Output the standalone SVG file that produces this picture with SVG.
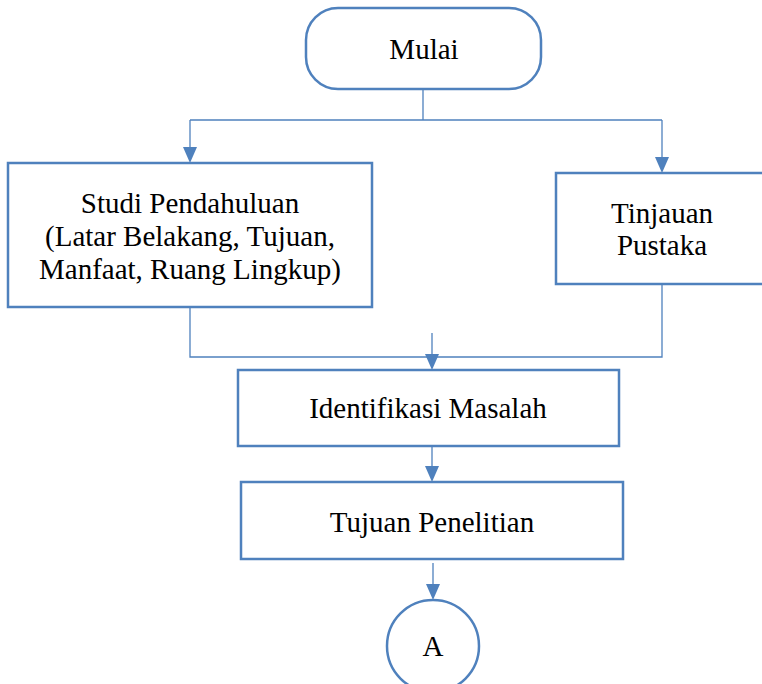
<svg xmlns="http://www.w3.org/2000/svg" width="762" height="684" viewBox="0 0 762 684">
<style>
.box{fill:#fff;stroke:#4F81BD;stroke-width:2.5}
.ln{fill:none;stroke:#4F81BD;stroke-width:1.3}
.t{font-family:"Liberation Serif","Times New Roman",serif;font-size:29px;fill:#000;text-anchor:middle}
</style>
<defs>
<marker id="ah" viewBox="0 0 14 16" refX="7" refY="16" markerWidth="14" markerHeight="16" markerUnits="userSpaceOnUse" orient="auto-start-reverse">
<path d="M0,0 L14,0 L7,16 Z" fill="#4F81BD"/>
</marker>
</defs>
<rect width="762" height="684" fill="#fff"/>
<g id="connectors">
<path class="ln" d="M423,89 V120 M190,120 H662"/>
<path class="ln" d="M190,120 V147"/>
<path d="M183,147 L197,147 L190,163 Z" fill="#4F81BD"/>
<path class="ln" d="M662,120 V157"/>
<path d="M655,157 L669,157 L662,173 Z" fill="#4F81BD"/>
<path class="ln" d="M190,307 V357 H662 V284"/>
<path class="ln" d="M432,333 V355"/>
<path d="M425,354 L439,354 L432,370 Z" fill="#4F81BD"/>
<path class="ln" d="M432,446 V467"/>
<path d="M425,466 L439,466 L432,482 Z" fill="#4F81BD"/>
<path class="ln" d="M433,563 V585"/>
<path d="M426,584 L440,584 L433,600 Z" fill="#4F81BD"/>
</g>
<g id="mulai">
<rect class="box" x="306" y="8" width="235" height="81" rx="32" ry="32"/>
<text class="t" x="424" y="59">Mulai</text>
</g>
<g id="studi">
<rect class="box" x="8" y="163" width="364" height="144"/>
<text class="t" x="190" y="213">Studi Pendahuluan</text>
<text class="t" x="190" y="246">(Latar Belakang, Tujuan,</text>
<text class="t" x="190" y="279">Manfaat, Ruang Lingkup)</text>
</g>
<g id="tinjauan">
<rect class="box" x="556" y="173" width="220" height="111"/>
<text class="t" x="662" y="223">Tinjauan</text>
<text class="t" x="662" y="255">Pustaka</text>
</g>
<g id="identifikasi">
<rect class="box" x="238" y="370" width="381" height="76"/>
<text class="t" x="428" y="418">Identifikasi Masalah</text>
</g>
<g id="tujuan">
<rect class="box" x="241" y="482" width="382" height="77"/>
<text class="t" x="432" y="532">Tujuan Penelitian</text>
</g>
<g id="a">
<circle class="box" cx="433" cy="646" r="46"/>
<text class="t" x="433" y="656">A</text>
</g>
</svg>
